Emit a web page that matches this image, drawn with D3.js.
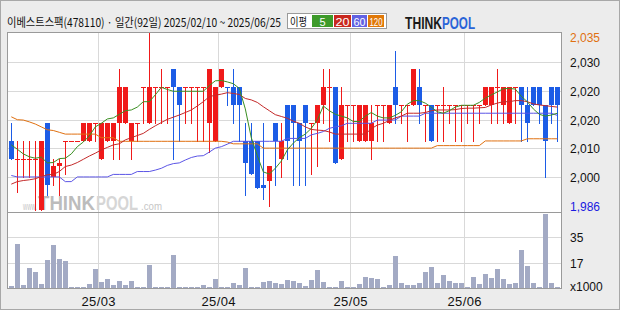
<!DOCTYPE html>
<html>
<head>
<meta charset="utf-8">
<script src="https://cdn.jsdelivr.net/npm/d3@7/dist/d3.min.js"></script>
<style>
  body { margin: 0; background: #ececec; }
  svg { display: block; }
</style>
</head>
<body>
<div id="chart"></div>
<script>
// header
const title = "이베스트스팩(478110) · 일간(92일) 2025/02/10 ~ 2025/06/25";
const maNames = ["5", "20", "60", "120"];

// daily candles, 92 trading days
const opens = [2005,2000,2000,2000,2000,1986,2010,1995,1998,2005, 2005,2005,2005,2005,2010,2000,2005,2005,2010,2010,
  2005,2010,2020,2010,2020,2020,2020,2025,2020,2020, 2020,2020,2020,2010,2005,2020,2020,2020,2020,2005,
  2005,2005,1993,1994,2010,2000,2015,2015,2010,2015, 2010,2010,2015,2020,2020,2000,2015,2015,2005,2005,
  2005,2015,2015,2010,2020,2015,2015,2015,2020,2015, 2015,2015,2015,2015,2015,2015,2015,2015,2015,2015,
  2015,2020,2015,2010,2020,2020,2015,2020,2020,2015, 2020,2020];
const highs = [2010,2005,2005,2005,2005,2005,2010,2000,2000,2005, 2005,2005,2010,2010,2010,2010,2010,2010,2025,2020,
  2010,2010,2020,2035,2020,2025,2020,2025,2020,2020, 2020,2020,2020,2025,2020,2025,2020,2025,2020,2010,
  2010,2005,2010,1998,2010,2010,2015,2015,2010,2015, 2010,2015,2025,2025,2020,2020,2015,2015,2015,2015,
  2015,2015,2015,2015,2030,2015,2015,2025,2025,2015, 2015,2015,2020,2015,2015,2015,2015,2015,2015,2020,
  2020,2025,2020,2020,2020,2020,2020,2020,2020,2015, 2020,2020];
const lows = [2000,1991,1995,1995,1986,1986,1990,1993,1990,1996, 2005,2005,2005,2005,2005,2000,2005,2000,2000,2010,
  2000,2005,2010,2010,2010,2010,2010,2000,2005,2010, 2010,2005,2005,2002,2005,2020,2015,2010,2005,1990,
  1996,1992,1989,1987,1993,1995,2000,1993,1993,1993, 1996,1998,2010,2005,1999,2000,2005,2005,2005,2005,
  2000,2005,2005,2010,2010,2010,2005,2015,2010,2005, 2005,2005,2005,2010,2005,2005,2010,2005,2010,2015,
  2010,2010,2010,2010,2010,2005,2005,2015,2010,1995, 2010,2005];
const closes = [2000,2000,2000,2000,2000,2005,1993,1998,1999,2005, 2005,2005,2010,2010,2010,2010,2010,2010,2020,2020,
  2010,2010,2020,2020,2020,2020,2020,2020,2015,2020, 2020,2020,2020,2025,2020,2025,2020,2015,2015,1999,
  1996,1992,1992,1998,2005,2005,2005,2010,2005,2010, 2010,2015,2020,2020,1999,2015,2015,2015,2015,2015,
  2010,2015,2015,2015,2015,2015,2015,2025,2015,2015, 2005,2015,2015,2015,2015,2015,2015,2015,2015,2020,
  2020,2020,2020,2020,2020,2015,2010,2015,2015,2005, 2015,2015];

// volume, x1000 shares
const volumes = [1.6,29.9,2.0,13.7,10.7,2.5,18.9,29.2,19.6,18.2, 0.8,0.8,0.8,2.5,12.8,3.9,5.9,1.8,4.6,1.8,
  4.6,0.8,0.8,15.5,0.8,0.8,0.8,22.3,0.8,0.8, 0.8,0.8,1.8,0.8,5.9,0.8,0.8,3.2,1.8,13.5,
  0.8,0.8,3.9,4.6,3.2,2.5,5.2,4.6,3.2,1.1, 5.2,12.1,3.9,0.8,0.8,4.6,0.8,0.8,2.5,7.3,
  6.6,5.9,0.8,1.8,21.7,3.2,1.8,1.8,3.2,10.7, 14.1,3.2,8.7,4.6,3.2,3.2,0.8,7.3,2.5,9.3,
  6.6,12.8,5.9,2.5,3.2,25.8,14.8,3.2,0.8,50.4, 3.2,0.8];

// moving averages as drawn
const ma5 = [2004.0,2002.8,2001.5,2000.7,2000.3,2000.6,1999.0,1999.1,2000.2,2000.3, 2001.5,2003.5,2004.8,2006.5,2009.0,2010.0,2011.2,2011.5,2012.5,2013.5,
  2013.7,2014.5,2016.0,2016.0,2017.9,2020.0,2019.4,2018.9,2018.9,2018.9, 2018.9,2018.9,2018.9,2020.5,2021.8,2021.9,2021.5,2021.0,2019.7,2014.0,
  2006.0,2001.0,1996.5,1995.9,1997.5,1999.5,2002.6,2004.5,2006.0,2007.0, 2008.6,2010.9,2014.8,2013.5,2012.5,2012.0,2011.5,2010.5,2010.5,2012.0,
  2013.0,2012.0,2011.5,2011.5,2012.2,2013.2,2015.3,2016.3,2016.3,2015.6, 2014.5,2013.2,2012.8,2013.5,2014.5,2015.0,2015.0,2015.0,2015.8,2017.0,
  2017.9,2018.7,2019.6,2019.7,2019.5,2017.5,2016.0,2014.0,2012.5,2012.0, 2012.3,2012.8];
const ma20 = [1993.1,1993.8,1994.1,1994.3,1994.6,1995.2,1995.7,1995.8,1996.6,1998.0, 1998.4,1999.1,2000.0,2000.9,2001.7,2002.6,2003.3,2004.0,2004.3,2005.4,
  2006.0,2006.6,2007.2,2008.3,2009.3,2010.2,2011.1,2011.7,2012.3,2013.0, 2013.7,2014.8,2016.0,2017.4,2017.8,2018.1,2018.5,2018.3,2018.0,2016.9,
  2016.5,2015.8,2014.6,2013.5,2012.4,2011.9,2011.4,2010.6,2010.0,2009.0, 2008.3,2008.1,2008.0,2007.6,2007.0,2007.0,2007.0,2007.0,2007.0,2007.0,
  2008.5,2009.5,2010.0,2010.8,2011.5,2012.0,2012.8,2012.8,2012.8,2013.0, 2013.5,2013.7,2013.7,2013.7,2013.8,2014.1,2014.2,2014.2,2014.3,2014.4,
  2015.1,2015.6,2016.0,2016.0,2016.3,2016.3,2016.0,2015.4,2015.1,2014.9, 2014.7,2014.5];
const ma60 = [1995.5,1995.1,1995.1,1995.1,1995.1,1995.1,1995.1,1995.1,1995.1,1993.8, 1993.8,1995.1,1995.1,1995.1,1995.1,1995.1,1995.1,1995.8,1995.8,1995.8,
  1995.8,1996.6,1996.6,1996.6,1997.0,1997.5,1998.3,1998.8,1999.0,1999.8, 2000.5,2000.9,2001.0,2002.0,2003.1,2003.5,2004.2,2005.0,2005.0,2005.0,
  2005.0,2005.0,2005.0,2005.0,2005.0,2005.0,2005.8,2005.8,2005.8,2005.8, 2006.8,2007.2,2007.7,2008.6,2009.0,2009.3,2010.0,2010.0,2010.0,2010.0,
  2010.0,2010.9,2010.9,2010.9,2010.9,2012.0,2012.0,2012.0,2012.0,2012.8, 2012.8,2012.8,2012.8,2012.8,2012.8,2012.8,2012.8,2012.8,2012.8,2012.8,
  2012.8,2012.8,2012.8,2012.8,2012.8,2012.8,2012.8,2012.8,2012.8,2012.8, 2012.8,2012.2];
const ma120 = [2011.8,2011.0,2010.9,2010.4,2009.8,2009.0,2008.2,2008.0,2007.5,2007.0, 2007.0,2007.0,2007.0,2007.0,2007.0,2006.0,2006.0,2006.0,2005.0,2005.0,
  2005.0,2005.0,2005.0,2005.0,2005.0,2005.0,2005.0,2005.0,2005.0,2005.0, 2005.0,2005.0,2005.0,2005.0,2005.0,2005.0,2004.8,2004.3,2004.3,2004.3,
  2004.3,2004.3,2003.1,2003.1,2003.1,2003.1,2003.1,2003.1,2003.1,2003.1, 2003.1,2003.1,2003.1,2003.1,2003.1,2003.1,2003.1,2003.1,2003.1,2003.1,
  2003.1,2003.1,2003.1,2003.1,2003.1,2003.1,2003.1,2003.1,2003.1,2003.1, 2003.1,2003.8,2003.8,2003.8,2003.8,2003.8,2003.8,2003.8,2003.8,2005.1,
  2005.1,2005.1,2005.1,2005.1,2005.1,2005.1,2005.7,2005.7,2005.7,2005.7, 2005.7,2005.7];

// axis labels
const priceTickLabels = ["2,035", "2,030", "2,020", "2,020", "2,010", "2,000", "1,986"];
const volTickLabels = ["35", "17"];
const monthStarts = [15, 35, 57, 76];
const monthLabels = ["25/03", "25/04", "25/05", "25/06"];

const W = 620, H = 310;
const upColor = "#f01a1a", downColor = "#1c5ce6";
const maColors = ["#3a8f22", "#c42a2a", "#5b55e6", "#e07010"];
const legendColors = ["#3d9a2a", "#c8281e", "#6262e2", "#e07808"];

const svg = d3.select("#chart").append("svg")
  .attr("width", W).attr("height", H)
  .style("font-family", "'Liberation Sans', Arial, sans-serif");

svg.append("rect").attr("x", 0.5).attr("y", 0.5).attr("width", W - 1).attr("height", H - 1)
  .attr("fill", "#ececec").attr("stroke", "#a8a8a8");

// plot area
const pLeft = 7.5, pRight = 561.5, pTop = 32.5, pSep = 212.5, pBottom = 288.5;
svg.append("rect").attr("x", pLeft).attr("y", pTop).attr("width", pRight - pLeft).attr("height", pBottom - pTop)
  .attr("fill", "#fff");

const x = d3.scaleBand().domain(d3.range(opens.length)).range([8.3, 560.3]);
const y = d3.scaleLinear().domain([1986, 2035]).range([209.7, 33.3]);
const yv = d3.scaleLinear().domain([0, 52]).range([288, 212]);
const gridY = d3.scaleLinear().domain([0, 6]).range([33.6, 205.7]);

const grid = svg.append("g").attr("stroke", "#d9d9d9").attr("stroke-width", 1);
[1, 2, 3, 4, 5].forEach(k => {
  const gy = Math.round(gridY(k)) + 0.5;
  grid.append("line").attr("x1", pLeft).attr("x2", pRight).attr("y1", gy).attr("y2", gy);
});
[2 / 3, 1 / 3].forEach(f => {
  const gy = Math.round(yv(52 * f)) + 0.5;
  grid.append("line").attr("x1", pLeft).attr("x2", pRight).attr("y1", gy).attr("y2", gy);
});
monthStarts.forEach(i => {
  const gx = Math.round(x(i)) + 0.5;
  grid.append("line").attr("x1", gx).attr("x2", gx).attr("y1", pTop).attr("y2", pBottom);
});

// watermark
const wm = svg.append("g");
wm.append("text").attr("x", 23).attr("y", 210).attr("font-size", 11).attr("fill", "#c6c6c6")
  .attr("textLength", 14).attr("lengthAdjust", "spacingAndGlyphs").text("www.");
wm.append("text").attr("x", 38).attr("y", 210).attr("font-size", 20).attr("font-weight", "bold")
  .attr("fill", "#bcbcbc").attr("textLength", 57).attr("lengthAdjust", "spacingAndGlyphs").text("THINK");
wm.append("text").attr("x", 96).attr("y", 210).attr("font-size", 20).attr("font-weight", "bold")
  .attr("fill", "#d6d6d6").attr("textLength", 42).attr("lengthAdjust", "spacingAndGlyphs").text("POOL");
wm.append("text").attr("x", 141).attr("y", 210).attr("font-size", 11).attr("fill", "#c6c6c6")
  .attr("textLength", 21).attr("lengthAdjust", "spacingAndGlyphs").text(".com");

// candles
const candleColor = i => {
  if (closes[i] > opens[i]) return upColor;
  if (closes[i] < opens[i]) return downColor;
  return (i === 0 || closes[i] >= closes[i - 1]) ? upColor : downColor;
};
const cg = svg.append("g");
d3.range(opens.length).forEach(i => {
  const bx = Math.round(x(i) + 1);
  const col = candleColor(i);
  cg.append("line")
    .attr("x1", bx + 2.5).attr("x2", bx + 2.5)
    .attr("y1", Math.round(y(highs[i]))).attr("y2", Math.round(y(lows[i])) + 1)
    .attr("stroke", col).attr("stroke-width", 1);
  const t = Math.round(y(Math.max(opens[i], closes[i])));
  const b = Math.round(y(Math.min(opens[i], closes[i])));
  cg.append("rect").attr("x", bx).attr("y", t).attr("width", 5).attr("height", Math.max(1, b - t))
    .attr("fill", col);
});

// moving averages
[ma120, ma60, ma20, ma5].forEach((ma, k) => {
  const line = d3.line().x((d, i) => x(i) + 3).y(d => y(d));
  svg.append("path").attr("d", line(ma)).attr("fill", "none")
    .attr("stroke", maColors[3 - k]).attr("stroke-width", 1);
});

// volume
svg.append("g").selectAll("rect").data(volumes).join("rect")
  .attr("x", (d, i) => Math.round(x(i) + 1))
  .attr("y", d => Math.min(287, Math.round(yv(d))))
  .attr("width", 5)
  .attr("height", d => 288 - Math.min(287, Math.round(yv(d))))
  .attr("fill", "#a3aac4");

// frame
svg.append("rect").attr("x", pLeft).attr("y", pTop).attr("width", pRight - pLeft).attr("height", pBottom - pTop)
  .attr("fill", "none").attr("stroke", "#9a9a9a");
svg.append("line").attr("x1", pLeft).attr("x2", pRight).attr("y1", pSep).attr("y2", pSep).attr("stroke", "#9a9a9a");

// right axis labels
const ax = svg.append("g").attr("font-size", 12);
priceTickLabels.forEach((t, k) => {
  let ly = Math.round(gridY(k)) + 1;
  if (k === 0) ly = 38;
  if (k === priceTickLabels.length - 1) ly = 207;
  ax.append("text").attr("x", 570).attr("y", ly).attr("dy", "0.36em")
    .attr("fill", k === 0 ? "#e07010" : (k === priceTickLabels.length - 1 ? "#1a1ae0" : "#111"))
    .text(t);
});
[2 / 3, 1 / 3].forEach((f, k) => {
  ax.append("text").attr("x", 570).attr("y", Math.round(yv(52 * f)) + 1).attr("dy", "0.36em")
    .attr("fill", "#111").text(volTickLabels[k]);
});
ax.append("text").attr("x", 570).attr("y", 287).attr("dy", "0.36em").attr("fill", "#111").text("x1000");

// month labels
monthStarts.forEach((i, k) => {
  svg.append("text").attr("x", Math.round(x(i)) + 0.5).attr("y", 306)
    .attr("text-anchor", "middle").attr("font-size", 13).attr("fill", "#111")
    .attr("textLength", 34).attr("lengthAdjust", "spacing")
    .text(monthLabels[k]);
});

// title
svg.append("text").attr("x", 7).attr("y", 27)
  .style("font-family", "'Noto Sans CJK KR', sans-serif")
  .attr("font-size", 12).attr("fill", "#111")
  .attr("textLength", 274).attr("lengthAdjust", "spacingAndGlyphs")
  .text(title);

// MA legend
const lg = svg.append("g");
lg.append("rect").attr("x", 287.5).attr("y", 13.5).attr("width", 99).attr("height", 15)
  .attr("fill", "#fff").attr("stroke", "#9a9a9a");
lg.append("text").attr("x", 290).attr("y", 25.5)
  .style("font-family", "'Noto Sans CJK KR', sans-serif").attr("font-size", 11).attr("fill", "#111")
  .attr("textLength", 17).attr("lengthAdjust", "spacingAndGlyphs").text("이평");
const boxes = [[312, 21], [334, 17], [352, 15], [368, 16]];
maNames.forEach((n, k) => {
  lg.append("rect").attr("x", boxes[k][0]).attr("y", 15).attr("width", boxes[k][1]).attr("height", 12)
    .attr("fill", legendColors[k]);
  lg.append("text").attr("x", boxes[k][0] + 1.5).attr("y", 25.5)
    .attr("font-size", 11).attr("fill", "#fff")
    .attr("textLength", boxes[k][1] - 3).attr("lengthAdjust", n.length > 1 ? "spacingAndGlyphs" : "spacing")
    .attr("text-anchor", "start")
    .attr("dx", n.length === 1 ? (boxes[k][1] - 3) / 2 - 3 : 0)
    .text(n.length === 1 ? n : n);
});

// logo
svg.append("text").attr("x", 405).attr("y", 28.5).attr("font-size", 16).attr("font-weight", "bold")
  .attr("fill", "#1a1a1a").attr("textLength", 37).attr("lengthAdjust", "spacingAndGlyphs").text("THINK");
svg.append("text").attr("x", 442).attr("y", 28.5).attr("font-size", 16).attr("font-weight", "bold")
  .attr("fill", "#2a64d8").attr("textLength", 33).attr("lengthAdjust", "spacingAndGlyphs").text("POOL");
</script>
</body>
</html>
